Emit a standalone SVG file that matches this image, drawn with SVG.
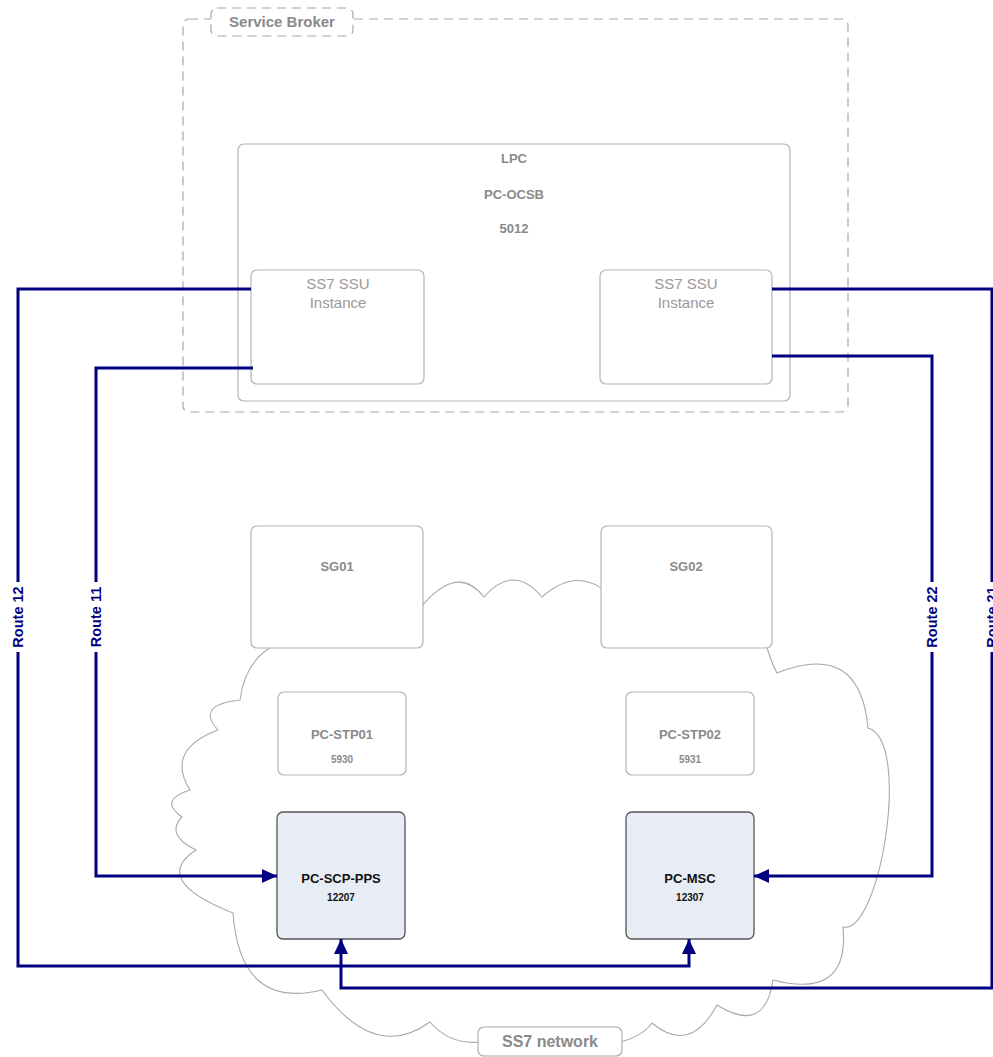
<svg xmlns="http://www.w3.org/2000/svg" width="993" height="1057" viewBox="0 0 993 1057">
<style>
.box{fill:#fff;stroke:#b4b4b4;stroke-width:1.2}
.dash{fill:#fff;stroke:#a8a8a8;stroke-width:1.2;stroke-dasharray:9,6}
.pc{fill:#e8ecf5;stroke:#555;stroke-width:1.3}
.gb{font-family:"Liberation Sans",Arial,sans-serif;font-weight:bold;fill:#8a8a8a;text-anchor:middle}
.gn{font-family:"Liberation Sans",Arial,sans-serif;fill:#9a9a9a;text-anchor:middle;font-size:15px}
.kb{font-family:"Liberation Sans",Arial,sans-serif;font-weight:bold;fill:#111;text-anchor:middle}
.rl{font-family:"Liberation Sans",Arial,sans-serif;font-weight:bold;fill:#000080;text-anchor:middle;font-size:14.5px}
.wire{fill:none;stroke:#000080;stroke-width:3;marker-end:url(#ah)}
</style>
<defs>
<marker id="ah" markerUnits="userSpaceOnUse" markerWidth="16" markerHeight="14" refX="15" refY="7" orient="auto">
<path d="M0,0 L15,7 L0,14 Z" fill="#000080"/>
</marker>
</defs>
<rect width="993" height="1057" fill="#fff"/>
<g id="service-broker">
<rect class="dash" x="183" y="19" width="665" height="393" rx="6" fill="none"/>
<rect class="dash" x="211" y="8" width="142" height="28" rx="6"/>
<text class="gb" x="282" y="27" font-size="15">Service Broker</text>
</g>
<g id="lpc">
<rect class="box" x="238" y="144" width="552" height="257" rx="6"/>
<text class="gb" x="514" y="163" font-size="13">LPC</text>
<text class="gb" x="514" y="199" font-size="13">PC-OCSB</text>
<text class="gb" x="514" y="233" font-size="13">5012</text>
</g>
<g id="ssu-left">
<rect class="box" x="251" y="270" width="173" height="114" rx="6"/>
<text class="gn" x="338" y="289">SS7 SSU</text>
<text class="gn" x="338" y="308">Instance</text>
</g>
<g id="ssu-right">
<rect class="box" x="600" y="270" width="172" height="114" rx="6"/>
<text class="gn" x="686" y="289">SS7 SSU</text>
<text class="gn" x="686" y="308">Instance</text>
</g>
<g id="ss7-cloud">
<path d="M275,645 Q245,660 240,700 Q195,705 218,730 Q165,750 190,790 Q158,800 182,817 Q165,835 196,850 Q150,880 233,913 Q240,1010 322,990 Q375,1062 430,1022 Q450,1045 480,1042 L606,1045 Q640,1040 652,1023 Q690,1055 717,1005 Q765,1035 773,980 Q850,1000 843,927 C880,935 912,740 868,728 Q860,640 777,673 Q770,660 765,640 L610,595 Q578,565 542,597 Q513,563 484,597 Q455,560 415,615 Z" fill="#fff" stroke="#a8a8a8" stroke-width="1.1"/>
</g>
<g id="sg01">
<rect class="box" x="251" y="526" width="172" height="122" rx="6"/>
<text class="gb" x="337" y="571" font-size="13">SG01</text>
</g>
<g id="sg02">
<rect class="box" x="601" y="526" width="171" height="122" rx="6"/>
<text class="gb" x="686" y="571" font-size="13">SG02</text>
</g>
<g id="pc-stp01">
<rect class="box" x="278" y="692" width="128" height="83" rx="6"/>
<text class="gb" x="342" y="739" font-size="13">PC-STP01</text>
<text class="gb" x="342" y="763" font-size="10">5930</text>
</g>
<g id="pc-stp02">
<rect class="box" x="626" y="692" width="128" height="83" rx="6"/>
<text class="gb" x="690" y="739" font-size="13">PC-STP02</text>
<text class="gb" x="690" y="763" font-size="10">5931</text>
</g>
<g id="pc-scp-pps">
<rect class="pc" x="277" y="812" width="128" height="127" rx="6"/>
<text class="kb" x="341" y="883" font-size="13">PC-SCP-PPS</text>
<text class="kb" x="341" y="901" font-size="10">12207</text>
</g>
<g id="pc-msc">
<rect class="pc" x="626" y="812" width="128" height="127" rx="6"/>
<text class="kb" x="690" y="883" font-size="13">PC-MSC</text>
<text class="kb" x="690" y="901" font-size="10">12307</text>
</g>
<g id="connectors">
<path class="wire" d="M251,289 H18 V966 H689 V939"/>
<path class="wire" d="M253,368 H96 V876 H277"/>
<path class="wire" d="M772,356 H932 V876 H754"/>
<path class="wire" d="M772,289 H992 V988 H341 V939"/>
<rect x="9" y="582" width="18" height="70" fill="#fff"/>
<text class="rl" transform="translate(23,617) rotate(-90)">Route 12</text>
<rect x="87" y="582" width="18" height="70" fill="#fff"/>
<text class="rl" transform="translate(101,617) rotate(-90)">Route 11</text>
<rect x="923" y="582" width="18" height="70" fill="#fff"/>
<text class="rl" transform="translate(937,617) rotate(-90)">Route 22</text>
<rect x="983" y="582" width="18" height="70" fill="#fff"/>
<text class="rl" transform="translate(997,617) rotate(-90)">Route 21</text>
</g>
<g id="ss7-network-label">
<rect x="478" y="1027" width="144" height="29" rx="6" fill="#fff" stroke="#a8a8a8" stroke-width="1.1"/>
<text class="gb" x="550" y="1047" font-size="16">SS7 network</text>
</g>
</svg>
